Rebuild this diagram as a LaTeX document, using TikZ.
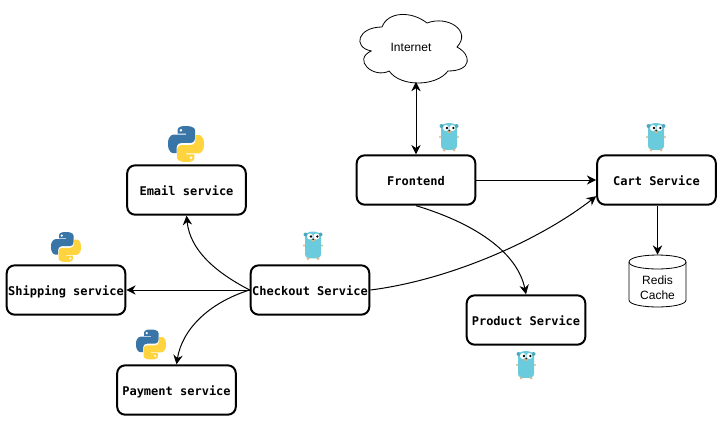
\documentclass[tikz,border=0pt]{standalone}
\usepackage{fontspec}
\setmainfont{Liberation Sans}
\setmonofont{DejaVu Sans Mono}
\usetikzlibrary{shapes.geometric,arrows.meta}
\definecolor{gopherblue}{HTML}{6ACBDD}
\definecolor{gopherear}{HTML}{4FA9BC}
\definecolor{gopherpaw}{HTML}{D8B98C}
\definecolor{pyblue}{HTML}{3A75A8}
\definecolor{pyyellow}{HTML}{FFD43F}
\tikzset{
  svc/.style={draw,line width=1.5pt,rounded corners=6pt,minimum width=89pt,minimum height=37pt,inner sep=0pt,text height=9pt,text depth=1pt,font=\ttfamily\bfseries\fontsize{9}{11}\selectfont},
  conn/.style={draw,line width=.75pt,-{Stealth[length=7pt,width=7pt]}},
  lbl/.style={font=\fontsize{9}{11}\selectfont,align=center},
  gopher/.pic={
    \fill[gopherblue] (-8,-8) .. controls (-8,-12) and (-5,-14) .. (0,-14) .. controls (5,-14) and (8,-12) .. (8,-8) -- (8,8) .. controls (8,12) and (6,13) .. (0,13) .. controls (-6,13) and (-8,12) .. (-8,8) -- cycle;
    \fill[gopherear] (-7.5,-11) circle (2) (7.5,-11) circle (2);
    \fill[gopherpaw] (-9,0) circle (1.2) (9,0) circle (1.2) (-5,13) circle (1.5) (5,13) circle (1.5);
    \fill[white] (-3,-9) circle (3) (3.4,-9) circle (3);
    \fill[black] (-2,-9) circle (1.3) (4.4,-9) circle (1.3);
    \fill[gopherpaw] (.2,-5.5) ellipse (2 and 1.4);
    \fill[black] (.2,-6.2) ellipse (1 and .6);
  },
  pylogo/.pic={
    \fill[pyblue] (-1,-50) .. controls (-25,-50) and (-23,-40) .. (-23,-40) -- (-23,-29) -- (0,-29) -- (0,-26) -- (-33,-26) .. controls (-33,-26) and (-50,-28) .. (-50,-1) .. controls (-50,26) and (-36,25) .. (-36,25) -- (-26,25) -- (-26,12) .. controls (-26,12) and (-27,-3) .. (-12,-3) -- (12,-3) .. controls (12,-3) and (25,-3) .. (25,-16) -- (25,-38) .. controls (25,-38) and (27,-50) .. (-1,-50) -- cycle;
    \fill[white] (-14,-38) circle (4);
    \begin{scope}[rotate=180]
    \fill[pyyellow] (-1,-50) .. controls (-25,-50) and (-23,-40) .. (-23,-40) -- (-23,-29) -- (0,-29) -- (0,-26) -- (-33,-26) .. controls (-33,-26) and (-50,-28) .. (-50,-1) .. controls (-50,26) and (-36,25) .. (-36,25) -- (-26,25) -- (-26,12) .. controls (-26,12) and (-27,-3) .. (-12,-3) -- (12,-3) .. controls (12,-3) and (25,-3) .. (25,-16) -- (25,-38) .. controls (25,-38) and (27,-50) .. (-1,-50) -- cycle;
    \fill[white] (-14,-38) circle (4);
    \end{scope}
  }
}
\begin{document}
\begin{tikzpicture}[x=.75pt,y=-.75pt]
\useasboundingbox (0,0) rectangle (723,422);
% cloud outline
\draw[line width=.6pt] (382,27) .. controls (358,27) and (352,47) .. (371.2,51) .. controls (352,59.8) and (373.6,79) .. (389.2,71) .. controls (400,87) and (436,87) .. (448,71) .. controls (472,71) and (472,55) .. (457,47) .. controls (472,31) and (448,15) .. (427,23) .. controls (412,11) and (388,11) .. (382,27) -- cycle;
% cache outline
\draw[line width=.6pt] (629,262) .. controls (629,252.7) and (686,252.7) .. (686,262) -- (686,300) .. controls (686,309.3) and (629,309.3) .. (629,300) -- cycle;
\draw[line width=.6pt] (629,262) .. controls (629,271.3) and (686,271.3) .. (686,262);
\node[lbl,inner sep=0pt,minimum width=82pt,minimum height=52pt] (internet) at (411,47) {Internet};
\node[svc] (frontend) at (416,180) {Frontend};
\node[svc] (cart) at (656.5,180) {Cart Service};
\node[svc] (email) at (186.5,190) {Email service};
\node[svc] (shipping) at (66,290) {Shipping service};
\node[svc] (checkout) at (310,290) {Checkout Service};
\node[svc] (product) at (526,320) {Product Service};
\node[svc] (payment) at (176.5,390) {Payment service};
\node[inner sep=0pt,minimum width=43pt,minimum height=39pt,label={[lbl,inner sep=0pt,yshift=-5.25pt]center:Redis\\Cache}] (redis) at (657.5,281) {};
\draw[conn,{Stealth[length=7pt,width=7pt]}-{Stealth[length=7pt,width=7pt]}] (internet.south -| frontend.north) -- (frontend.north);
\draw[conn] (frontend) -- (cart);
\draw[conn] (cart.south -| redis.north) -- (redis.north);
\draw[conn] (checkout) -- (shipping);
\draw[conn] (checkout.west) .. controls (215,272) and (190,250) .. (email.south);
\draw[conn] (checkout.west) .. controls (208,303) and (182,330) .. (payment.north);
\draw[conn] (checkout.east) .. controls (450,280) and (540,240) .. (cart.195);
\draw[conn] (frontend.south) .. controls (480,225) and (518,255) .. (product.north);
\pic[scale=.36] at (186,144) {pylogo};
\pic[scale=.3] at (66,247) {pylogo};
\pic[scale=.3] at (151,344.5) {pylogo};
\pic at (449,137) {gopher};
\pic at (656,137) {gopher};
\pic at (313,245.5) {gopher};
\pic at (526,365) {gopher};
\end{tikzpicture}
\end{document}
